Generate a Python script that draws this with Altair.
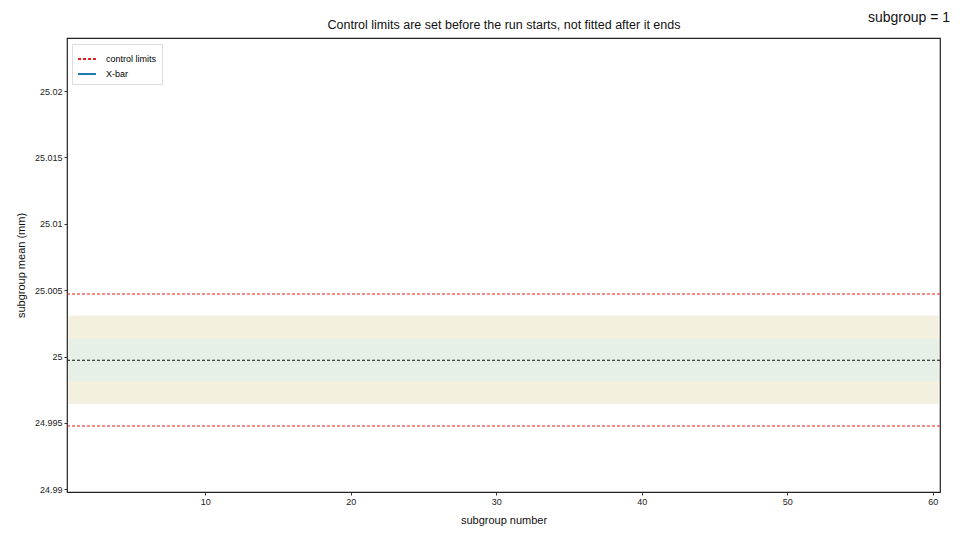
import altair as alt
import pandas as pd

# data
limit_names = ["UCL", "LCL"]
limit_values = [25.00472, 24.99477]
center_value = 24.99973
zone_names = ["2 sigma", "1 sigma"]
zone_lo = [24.99643, 24.99814]
zone_hi = [25.00309, 25.00133]
zone_colors = ["#f4f0df", "#e6f0e7"]
x_start, x_end = 0.6, 60.4
x_ticks = [10, 20, 30, 40, 50, 60]
y_ticks = [24.99, 24.995, 25.0, 25.005, 25.01, 25.015, 25.02]
series_names = ["control limits", "X-bar"]
series_colors = ["#e41a1c", "#1f77b4"]
title_text = "Control limits are set before the run starts, not fitted after it ends"
frame_label = "subgroup = 1"

FONT = "Liberation Sans"

xs = alt.Scale(domain=[0.5, 60.5], nice=False, zero=False)
ys = alt.Scale(domain=[24.9898, 25.024], nice=False, zero=False)

zones = pd.DataFrame({"zone": zone_names, "lo": zone_lo, "hi": zone_hi,
                      "x0": [x_start] * 2, "x1": [x_end] * 2, "c": zone_colors})
limits = pd.DataFrame({"name": limit_names, "y": limit_values,
                       "series": ["control limits"] * 2})
center = pd.DataFrame({"y": [center_value]})

xaxis = alt.Axis(values=x_ticks, title="subgroup number", grid=False, labelFontSize=9,
                 titleFontSize=11, titleFontWeight="normal", tickSize=3, titlePadding=8,
                 domain=False, labelColor="#222", titleColor="#111")
yaxis = alt.Axis(values=y_ticks, format="~g", title="subgroup mean (mm)", grid=False,
                 labelFontSize=9, titleFontSize=11, titleFontWeight="normal", tickSize=3,
                 titlePadding=8, domain=False, labelColor="#222", titleColor="#111")

band = alt.Chart(zones).mark_rect().encode(
    x=alt.X("x0:Q", scale=xs, axis=xaxis),
    x2="x1:Q",
    y=alt.Y("lo:Q", scale=ys, axis=yaxis),
    y2="hi:Q",
    color=alt.Color("c:N", scale=None),
)

center_rule = alt.Chart(center).mark_rule(color="#111", strokeDash=[3, 2], strokeWidth=1.1).encode(
    y=alt.Y("y:Q", scale=ys)
)

leg = alt.Legend(title=None, orient="none", legendX=5, legendY=6,
                 symbolType="stroke", labelFontSize=9,
                 symbolStrokeWidth=2, symbolSize=320,
                 padding=5, rowPadding=0, strokeColor="#ddd",
                 fillColor="white", labelFont=FONT, labelOffset=9)

lim_rule = alt.Chart(limits).mark_rule(strokeWidth=1.1).encode(
    y=alt.Y("y:Q", scale=ys),
    color=alt.Color("series:N", scale=alt.Scale(domain=series_names, range=series_colors),
                    legend=leg),
    strokeDash=alt.StrokeDash("series:N", scale=alt.Scale(domain=series_names,
                                                          range=[[3, 2], [1, 0]]),
                              legend=leg),
)

text_df = pd.DataFrame({"t": [frame_label]})
frame_text = alt.Chart(text_df).mark_text(
    align="right", fontSize=14, font=FONT, color="#111", baseline="middle"
).encode(x=alt.value(883), y=alt.value(-20), text="t:N")

title_mark = alt.Chart(pd.DataFrame({"t": [title_text]})).mark_text(
    align="center", fontSize=12.5, font=FONT, color="#111", baseline="middle"
).encode(x=alt.value(437), y=alt.value(-13), text="t:N")

chart = alt.layer(band, center_rule, lim_rule, frame_text, title_mark).properties(
    width=873, height=454,
    autosize=alt.AutoSizeParams(type="none"),
    padding={"left": 59, "top": 30, "right": 12, "bottom": 40},
).configure(font=FONT).configure_view(stroke="#222", strokeWidth=1.2).configure_axis(
    labelFont=FONT, titleFont=FONT, tickColor="#333")

chart.save("out.html", embed_options={"renderer": "svg", "actions": False})
